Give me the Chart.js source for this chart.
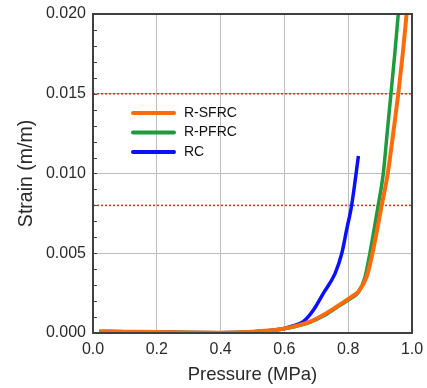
<!DOCTYPE html>
<html>
<head>
<meta charset="utf-8">
<script src="https://cdn.jsdelivr.net/npm/chart.js@4/dist/chart.umd.min.js"></script>
<style>
  html, body { margin: 0; padding: 0; background: #fff; }
  #chart { display: block; }
</style>
</head>
<body>
<canvas id="chart" width="427" height="388"></canvas>
<script>
// Pressure (MPa) / strain (m/m)
const sfrcPressure = [0.02, 0.1, 0.2, 0.3, 0.4, 0.5, 0.586, 0.628, 0.68, 0.722, 0.764, 0.811, 0.832, 0.858, 0.876, 0.905, 0.924, 0.941, 0.957, 0.971, 0.983];
const sfrcStrain = [0.0001, 0.00008, 0.00006, 0.00003, 0.00002, 0.00008, 0.00023, 0.0004, 0.00071, 0.00113, 0.00165, 0.00228, 0.00259, 0.00353, 0.0050, 0.0080, 0.0100, 0.0125, 0.0150, 0.0175, 0.0200];

const pfrcPressure = [0.02, 0.1, 0.2, 0.3, 0.4, 0.5, 0.586, 0.628, 0.68, 0.722, 0.764, 0.811, 0.832, 0.853, 0.868, 0.894, 0.910, 0.922, 0.934, 0.946, 0.957];
const pfrcStrain = [0.0001, 0.00008, 0.00006, 0.00003, 0.00002, 0.00008, 0.00022, 0.00038, 0.00066, 0.00106, 0.0016, 0.0022, 0.00255, 0.00353, 0.0050, 0.0080, 0.0100, 0.0125, 0.0150, 0.0175, 0.0200];

const rcPressure = [0.02, 0.1, 0.2, 0.3, 0.4, 0.5, 0.586, 0.618, 0.659, 0.691, 0.722, 0.759, 0.780, 0.795, 0.811, 0.832];
const rcStrain = [0.0001, 0.00008, 0.00006, 0.00003, 0.00002, 0.00008, 0.00023, 0.0004, 0.00071, 0.00144, 0.00249, 0.00374, 0.0050, 0.00646, 0.00803, 0.0111];

const limitStrains = [0.015, 0.008];
const xTicks = [0, 0.2, 0.4, 0.6, 0.8, 1.0];
const yTicks = [0, 0.005, 0.010, 0.015, 0.020];

const COLORS = {
    sfrc: "#ff6a0a",
    pfrc: "#1f9a3c",
    rc: "#0a10ff",
    limit: "#ff2020",
    grid: "#bdbdbd",
    frame: "#404040",
    text: "#2a2a2a",
};
const FONT = "'Liberation Sans', Arial, sans-serif";

function toPoints(xs, ys) {
    return xs.map((x, i) => ({ x, y: ys[i] }));
}

const curveStyle = {
    pointRadius: 0,
    borderWidth: 4,
    cubicInterpolationMode: "monotone",
    fill: false,
};

const datasets = [
    { label: "R-SFRC", data: toPoints(sfrcPressure, sfrcStrain), borderColor: COLORS.sfrc, ...curveStyle },
    { label: "R-PFRC", data: toPoints(pfrcPressure, pfrcStrain), borderColor: COLORS.pfrc, ...curveStyle, borderWidth: 3.5 },
    { label: "RC", data: toPoints(rcPressure, rcStrain), borderColor: COLORS.rc, ...curveStyle, borderWidth: 3.5 },
    ...limitStrains.map((v) => ({
        label: "",
        isLimit: true,
        data: [{ x: xTicks[0], y: v }, { x: xTicks[xTicks.length - 1], y: v }],
        borderColor: COLORS.limit,
        borderWidth: 1.5,
        borderDash: [2, 2],
        pointRadius: 0,
        fill: false,
    })),
];

// frame, inward minor ticks on the strain axis, legend inside the plot
const framePlugin = {
    id: "frame",
    afterDraw(chart) {
        const { ctx, chartArea: a, scales } = chart;
        ctx.save();
        ctx.strokeStyle = COLORS.frame;
        ctx.lineWidth = 1;
        for (let v = 0.001; v < 0.02; v += 0.001) {
            const y = Math.round(scales.y.getPixelForValue(v)) + 0.5;
            ctx.beginPath();
            ctx.moveTo(a.left, y);
            ctx.lineTo(a.left + 4, y);
            ctx.stroke();
        }
        ctx.lineWidth = 2;
        ctx.strokeRect(a.left, a.top, a.right - a.left, a.bottom - a.top);

        const curves = chart.data.datasets.filter((d) => !d.isLimit);
        ctx.font = "14px " + FONT;
        ctx.textBaseline = "middle";
        ctx.fillStyle = "#111";
        curves.forEach((d, i) => {
            const y = 113 + i * 19.5;
            ctx.strokeStyle = d.borderColor;
            ctx.lineWidth = 4;
            ctx.lineCap = "round";
            ctx.beginPath();
            ctx.moveTo(133, y);
            ctx.lineTo(174, y);
            ctx.stroke();
            ctx.fillText(d.label, 184, y);
        });
        ctx.restore();
    },
};

new Chart(document.getElementById("chart").getContext("2d"), {
    type: "line",
    data: { datasets },
    options: {
        responsive: false,
        animation: false,
        layout: { padding: { left: 0, right: 15, top: 14, bottom: 0 } },
        plugins: {
            legend: { display: false },
            tooltip: { enabled: false },
        },
        scales: {
            x: {
                type: "linear",
                min: xTicks[0],
                max: xTicks[xTicks.length - 1],
                afterBuildTicks: (s) => { s.ticks = xTicks.map((v) => ({ value: v })); },
                afterFit: (s) => {
                    s.height = 55;
                    s.paddingLeft = 0;
                    s.paddingRight = 0;
                },
                border: { display: false },
                grid: { color: COLORS.grid, lineWidth: 1, drawTicks: false },
                ticks: {
                    padding: 7,
                    color: COLORS.text,
                    font: { family: FONT, size: 16 },
                    callback: (v) => Number(v).toFixed(1),
                },
                title: {
                    display: true,
                    text: "Pressure (MPa)",
                    color: COLORS.text,
                    font: { family: FONT, size: 18.5 },
                    padding: { top: 0, bottom: 2 },
                },
            },
            y: {
                type: "linear",
                min: yTicks[0],
                max: yTicks[yTicks.length - 1],
                afterBuildTicks: (s) => { s.ticks = yTicks.map((v) => ({ value: v })); },
                afterFit: (s) => {
                    s.width = 93;
                    s.paddingTop = 0;
                    s.paddingBottom = 0;
                },
                border: { display: false },
                grid: { color: COLORS.grid, lineWidth: 1, drawTicks: false },
                ticks: {
                    padding: 7,
                    color: COLORS.text,
                    font: { family: FONT, size: 16 },
                    callback: (v) => Number(v).toFixed(3),
                },
                title: {
                    display: true,
                    text: "Strain (m/m)",
                    color: COLORS.text,
                    font: { family: FONT, size: 19.5 },
                    padding: { top: 15, bottom: 0 },
                },
            },
        },
    },
    plugins: [framePlugin],
});
</script>
</body>
</html>
